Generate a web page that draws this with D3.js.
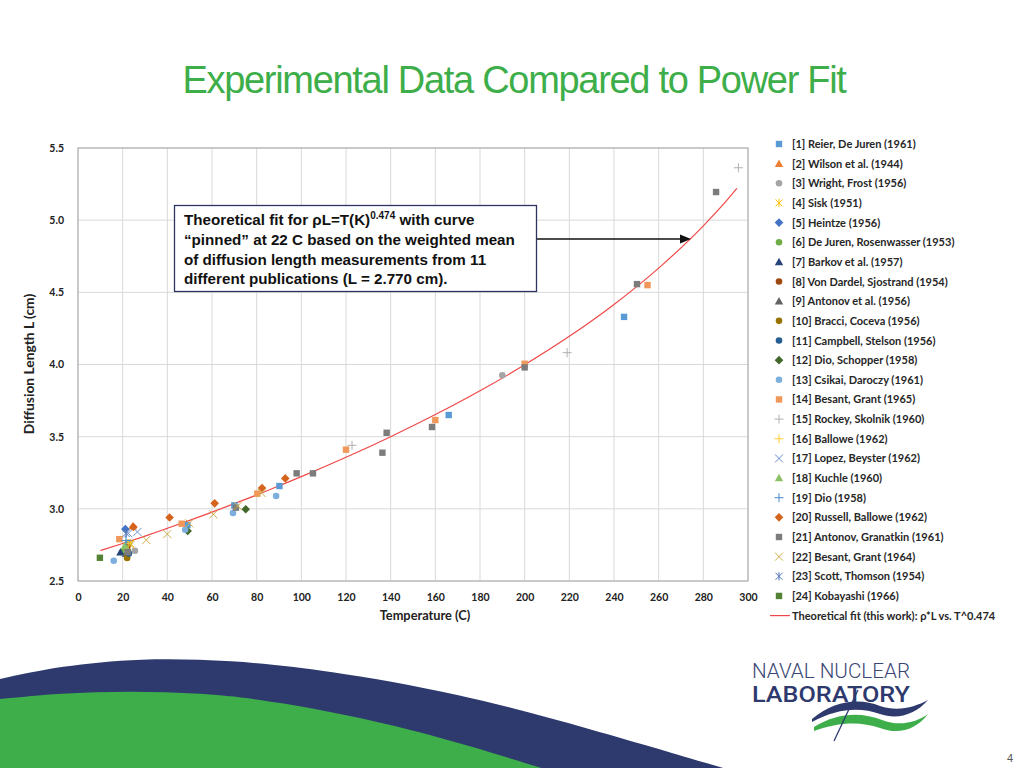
<!DOCTYPE html>
<html><head><meta charset="utf-8">
<script src="https://cdn.jsdelivr.net/npm/d3@7"></script>
<style>
html,body{margin:0;padding:0;background:#fff;}
svg{display:block;}
</style></head>
<body>
<svg id="chart" width="1024" height="768"></svg>
<script>
// ---------------- DATA ----------------
const xTicks = [0,20,40,60,80,100,120,140,160,180,200,220,240,260,280,300];
const yTicks = [2.5,3.0,3.5,4.0,4.5,5.0,5.5];

const seriesNames = [
  "[1] Reier, De Juren (1961)",
  "[2] Wilson et al. (1944)",
  "[3] Wright, Frost (1956)",
  "[4] Sisk (1951)",
  "[5] Heintze (1956)",
  "[6] De Juren, Rosenwasser (1953)",
  "[7] Barkov et al. (1957)",
  "[8] Von Dardel, Sjostrand (1954)",
  "[9] Antonov et al. (1956)",
  "[10] Bracci, Coceva (1956)",
  "[11] Campbell, Stelson (1956)",
  "[12] Dio, Schopper (1958)",
  "[13] Csikai, Daroczy (1961)",
  "[14] Besant, Grant (1965)",
  "[15] Rockey, Skolnik (1960)",
  "[16] Ballowe (1962)",
  "[17] Lopez, Beyster (1962)",
  "[18] Kuchle (1960)",
  "[19] Dio (1958)",
  "[20] Russell, Ballowe (1962)",
  "[21] Antonov, Granatkin (1961)",
  "[22] Besant, Grant (1964)",
  "[23] Scott, Thomson (1954)",
  "[24] Kobayashi (1966)"
];
const fitName = "Theoretical fit (this work): \u03c1*L vs. T^0.474";

// [temperature C, diffusion length cm]
const reier      = [[22.5,2.765],[49,2.888],[70,3.024],[90.2,3.158],[166,3.65],[244.5,4.33]];
const wilson     = [[24.5,2.88]];
const wright     = [[25.5,2.71],[190,3.925]];
const sisk       = [[23.5,2.76]];
const heintze    = [[21.2,2.86]];
const dejuren    = [[20,2.70]];
const barkov     = [[19,2.70]];
const vonDardel  = [[22,2.735]];
const antonov    = [[21.5,2.69]];
const bracci     = [[22,2.66]];
const campbell   = [[22.8,2.69]];
const dioSchopper= [[49.1,2.846],[75.1,2.997]];
const csikai     = [[16,2.64],[48,2.855],[69.4,2.971],[88.7,3.089]];
const besant65   = [[18.5,2.79],[46.4,2.897],[80.3,3.105],[120,3.41],[160,3.615],[200,4.005],[255,4.55]];
const rockey     = [[122.7,3.44],[219,4.082],[295.7,5.363]];
const ballowe    = [[22.5,2.76]];
const lopez      = [[26.6,2.84],[22.5,2.83]];
const kuchle     = [[21,2.745],[22,2.72]];
const dio        = [[21.5,2.78]];
const russell    = [[24.8,2.875],[41,2.94],[61.2,3.038],[82.4,3.144],[92.8,3.211]];
const antonovG   = [[22.3,2.70],[70.7,3.008],[97.9,3.246],[105.2,3.246],[136.3,3.389],[138.2,3.527],[158.5,3.567],[200,3.98],[250.3,4.557],[285.7,5.195]];
const besant64   = [[23.5,2.75],[30.6,2.784],[40,2.825],[49.8,2.90],[60.6,2.962],[71.5,3.02],[82.2,3.11]];
const scott      = [[21.5,2.83]];
const kobayashi  = [[9.8,2.661]];

const seriesValues = [reier,wilson,wright,sisk,heintze,dejuren,barkov,vonDardel,antonov,bracci,campbell,dioSchopper,
  csikai,besant65,rockey,ballowe,lopez,kuchle,dio,russell,antonovG,besant64,scott,kobayashi];

// theoretical fit curve
const fitTemps  = [10,20,22,30,40,50,60,70,80,90,100,120,140,160,180,200,220,240,260,280,290,295];
const fitValues = [2.711,2.760,2.770,2.811,2.865,2.920,2.977,3.036,3.096,3.159,3.223,3.357,3.500,3.653,3.818,3.998,4.195,4.416,4.668,4.961,5.128,5.220];

// ---------------- STYLES ----------------
const seriesStyle = [
  ["square","#5B9BD5"],["triangle","#ED7D31"],["circle","#A5A5A5"],["star","#FFC000"],
  ["diamond","#4472C4"],["circle","#70AD47"],["triangle","#264478"],["circle","#9E480E"],
  ["triangle","#636363"],["circle","#997300"],["circle","#255E91"],["diamond","#43682B"],
  ["circle","#7CAFDD"],["square","#F1975A"],["plus","#B0B0B0"],["plus","#FFCD33"],
  ["x","#698ED0"],["triangle","#8CC168"],["plus","#4C87C9"],["diamond","#D5631C"],
  ["square","#7C7C7C"],["x","#CCAE45"],["star","#4F74B8"],["square","#548235"]
];

const svg = d3.select("#chart");

// ---------- background decorations ----------
const navyCol = "#2E3A6E", greenCol = "#3DAE4A";
const waveLine = d3.line().curve(d3.curveBasis);
svg.append("path").attr("fill", navyCol).attr("d", function(){
  const top = [[0,679],[60,666],[140,658],[230,660],[327,670],[457,693],[588,728],[730,770]];
  return waveLine(top) + " L730,770 L0,770 Z";
});
svg.append("path").attr("fill", greenCol).attr("d", function(){
  const top = [[0,699],[60,693],[130,691],[200,693],[270,700],[392,724],[470,746],[548,770]];
  return waveLine(top) + " L548,770 L0,770 Z";
});

// title
svg.append("text").attr("x", 514).attr("y", 93).attr("text-anchor","middle")
  .attr("font-family","Liberation Sans, Arial, sans-serif").attr("font-size", 38)
  .attr("letter-spacing", "-1.3").attr("fill", "#3DAE49")
  .text("Experimental Data Compared to Power Fit");

// ---------------- CHART ----------------
const x = d3.scaleLinear().domain([0,300]).range([78,748]);
const y = d3.scaleLinear().domain([2.5,5.5]).range([581,148]);

const grid = svg.append("g");
grid.selectAll("line.v").data(xTicks).join("line")
  .attr("x1", d=>x(d)).attr("x2", d=>x(d)).attr("y1", y(5.5)).attr("y2", y(2.5))
  .attr("stroke", "#D9D9D9").attr("stroke-width", 1);
grid.selectAll("line.h").data(yTicks).join("line")
  .attr("x1", x(0)).attr("x2", x(300)).attr("y1", d=>y(d)).attr("y2", d=>y(d))
  .attr("stroke", "#D9D9D9").attr("stroke-width", 1);
svg.append("rect").attr("x", x(0)).attr("y", y(5.5)).attr("width", x(300)-x(0)).attr("height", y(2.5)-y(5.5))
  .attr("fill","none").attr("stroke","#A6A6A6").attr("stroke-width",1);

const tickFont = "Lato, 'Open Sans', sans-serif";
const xAxis = svg.append("g").attr("transform", `translate(0,${y(2.5)+10})`)
  .call(d3.axisBottom(x).tickValues(xTicks).tickSize(0).tickFormat(d3.format("d")));
xAxis.select(".domain").remove();
xAxis.selectAll("text").attr("font-family", tickFont).attr("font-weight", "bold").attr("font-size", 10.5).attr("fill", "#222");

const yAxis = svg.append("g").attr("transform", `translate(${x(0)-11},0)`)
  .call(d3.axisLeft(y).tickValues(yTicks).tickSize(0).tickFormat(d3.format(".1f")));
yAxis.select(".domain").remove();
yAxis.selectAll("text").attr("font-family", tickFont).attr("font-weight", "bold").attr("font-size", 10.5).attr("fill", "#222");

svg.append("text").attr("x", 425).attr("y", 620).attr("text-anchor","middle")
  .attr("font-family", tickFont).attr("font-weight","bold").attr("font-size", 12.8).attr("fill","#222")
  .text("Temperature (C)");
svg.append("text").attr("transform", "translate(34,364) rotate(-90)").attr("text-anchor","middle")
  .attr("font-family", tickFont).attr("font-weight","bold").attr("font-size", 13.8).attr("fill","#222")
  .text("Diffusion Length L (cm)");

// fit curve
const fitPts = fitTemps.map((t,i)=>[t, fitValues[i]]);
svg.append("path").datum(fitPts)
  .attr("d", d3.line().x(d=>x(d[0])).y(d=>y(d[1])).curve(d3.curveMonotoneX))
  .attr("fill","none").attr("stroke","#F04848").attr("stroke-width",1.2);

// markers
function drawMarker(g, type, color) {
  switch (type) {
    case "square":
      g.append("rect").attr("x",-3.2).attr("y",-3.2).attr("width",6.4).attr("height",6.4).attr("fill",color); break;
    case "circle":
      g.append("circle").attr("r",3.3).attr("fill",color); break;
    case "triangle":
      g.append("path").attr("d","M0,-4.2L4.2,3.3L-4.2,3.3Z").attr("fill",color); break;
    case "diamond":
      g.append("path").attr("d","M0,-4.3L4.3,0L0,4.3L-4.3,0Z").attr("fill",color); break;
    case "plus":
      g.append("path").attr("d","M-4.5,0H4.5M0,-4.5V4.5").attr("stroke",color).attr("stroke-width",1).attr("fill","none"); break;
    case "x":
      g.append("path").attr("d","M-4,-4L4,4M-4,4L4,-4").attr("stroke",color).attr("stroke-width",1).attr("fill","none"); break;
    case "star":
      g.append("path").attr("d","M-3.5,-3.5L3.5,3.5M-3.5,3.5L3.5,-3.5M0,-4.2V4.2").attr("stroke",color).attr("stroke-width",1).attr("fill","none"); break;
  }
}

const pts = svg.append("g");
seriesValues.forEach((vals, si) => {
  const [type, color] = seriesStyle[si];
  vals.forEach(v => {
    const g = pts.append("g").attr("transform", `translate(${x(v[0])},${y(v[1])})`);
    drawMarker(g, type, color);
  });
});

// annotation box
const ann = svg.append("g");
ann.append("line").attr("x1", 536).attr("y1", 239).attr("x2", 682).attr("y2", 239)
  .attr("stroke","#111").attr("stroke-width",1.6);
ann.append("path").attr("d","M680,234.5 L691,239 L680,243.5 Z").attr("fill","#111");
ann.append("rect").attr("x",174.5).attr("y",205.5).attr("width",362).attr("height",86)
  .attr("fill","#fff").attr("stroke","#2E3560").attr("stroke-width",1.3);
const annFont = "Liberation Sans, Arial, sans-serif";
const annSize = 15.2;
const l1 = ann.append("text").attr("x",184).attr("y",225).attr("font-family",annFont).attr("font-weight","bold").attr("font-size",annSize).attr("fill","#111");
l1.append("tspan").text("Theoretical fit for \u03c1L=T(K)");
l1.append("tspan").attr("dy",-6).attr("font-size",10).text("0.474");
l1.append("tspan").attr("dy",6).text(" with curve");
["\u201cpinned\u201d at 22 C based on the weighted mean",
 "of diffusion length measurements from 11",
 "different publications (L = 2.770 cm)."].forEach((t,i)=>{
  ann.append("text").attr("x",184).attr("y",245+i*19.6).attr("font-family",annFont).attr("font-weight","bold")
    .attr("font-size",annSize).attr("fill","#111").text(t);
});

// legend
const legFont = "Lato, 'Open Sans', sans-serif";
const leg = svg.append("g");
seriesNames.forEach((name, i) => {
  const yy = 144 + i*19.65;
  const g = leg.append("g").attr("transform", `translate(779,${yy})`);
  drawMarker(g, seriesStyle[i][0], seriesStyle[i][1]);
  leg.append("text").attr("x",792).attr("y",yy+4).attr("font-family",legFont).attr("font-weight","bold")
    .attr("font-size",11).attr("fill","#262626").text(name);
});
const fy = 144 + 24*19.65;
leg.append("line").attr("x1",770).attr("x2",790).attr("y1",fy).attr("y2",fy).attr("stroke","#F04848").attr("stroke-width",1.2);
leg.append("text").attr("x",792).attr("y",fy+4).attr("font-family",legFont).attr("font-weight","bold")
  .attr("font-size",11).attr("fill","#262626").text(fitName);

// logo
const logo = svg.append("g");
logo.append("text").attr("x",752).attr("y",678).attr("font-family","Roboto, sans-serif").attr("font-weight",300)
  .attr("font-size",21).attr("fill","#3A4675").attr("textLength",158).attr("lengthAdjust","spacingAndGlyphs").text("NAVAL NUCLEAR");
logo.append("text").attr("x",752).attr("y",702).attr("font-family","Roboto, sans-serif").attr("font-weight",500)
  .attr("font-size",22).attr("fill","#2E3A6E").attr("textLength",158).attr("lengthAdjust","spacingAndGlyphs").text("LABORATORY");
logo.append("path").attr("d","M812,719 C835,700 860,698 880,706 C898,712 915,707 928,700 C915,715 897,720 880,714 C860,707 838,708 812,722 Z").attr("fill","#2E3A6E");
logo.append("path").attr("d","M814,727 C838,712 862,712 882,720 C900,727 917,722 928,714 C916,730 898,735 880,728 C860,721 838,722 814,731 Z").attr("fill","#3DAE4A");
logo.append("line").attr("x1",858).attr("y1",690).attr("x2",834).attr("y2",741).attr("stroke","#2E3A6E").attr("stroke-width",1.3);

svg.append("text").attr("x",1013).attr("y",762).attr("text-anchor","end").attr("font-family","Liberation Sans, Arial, sans-serif")
  .attr("font-size",11).attr("fill","#555").text("4");
</script>
</body></html>
